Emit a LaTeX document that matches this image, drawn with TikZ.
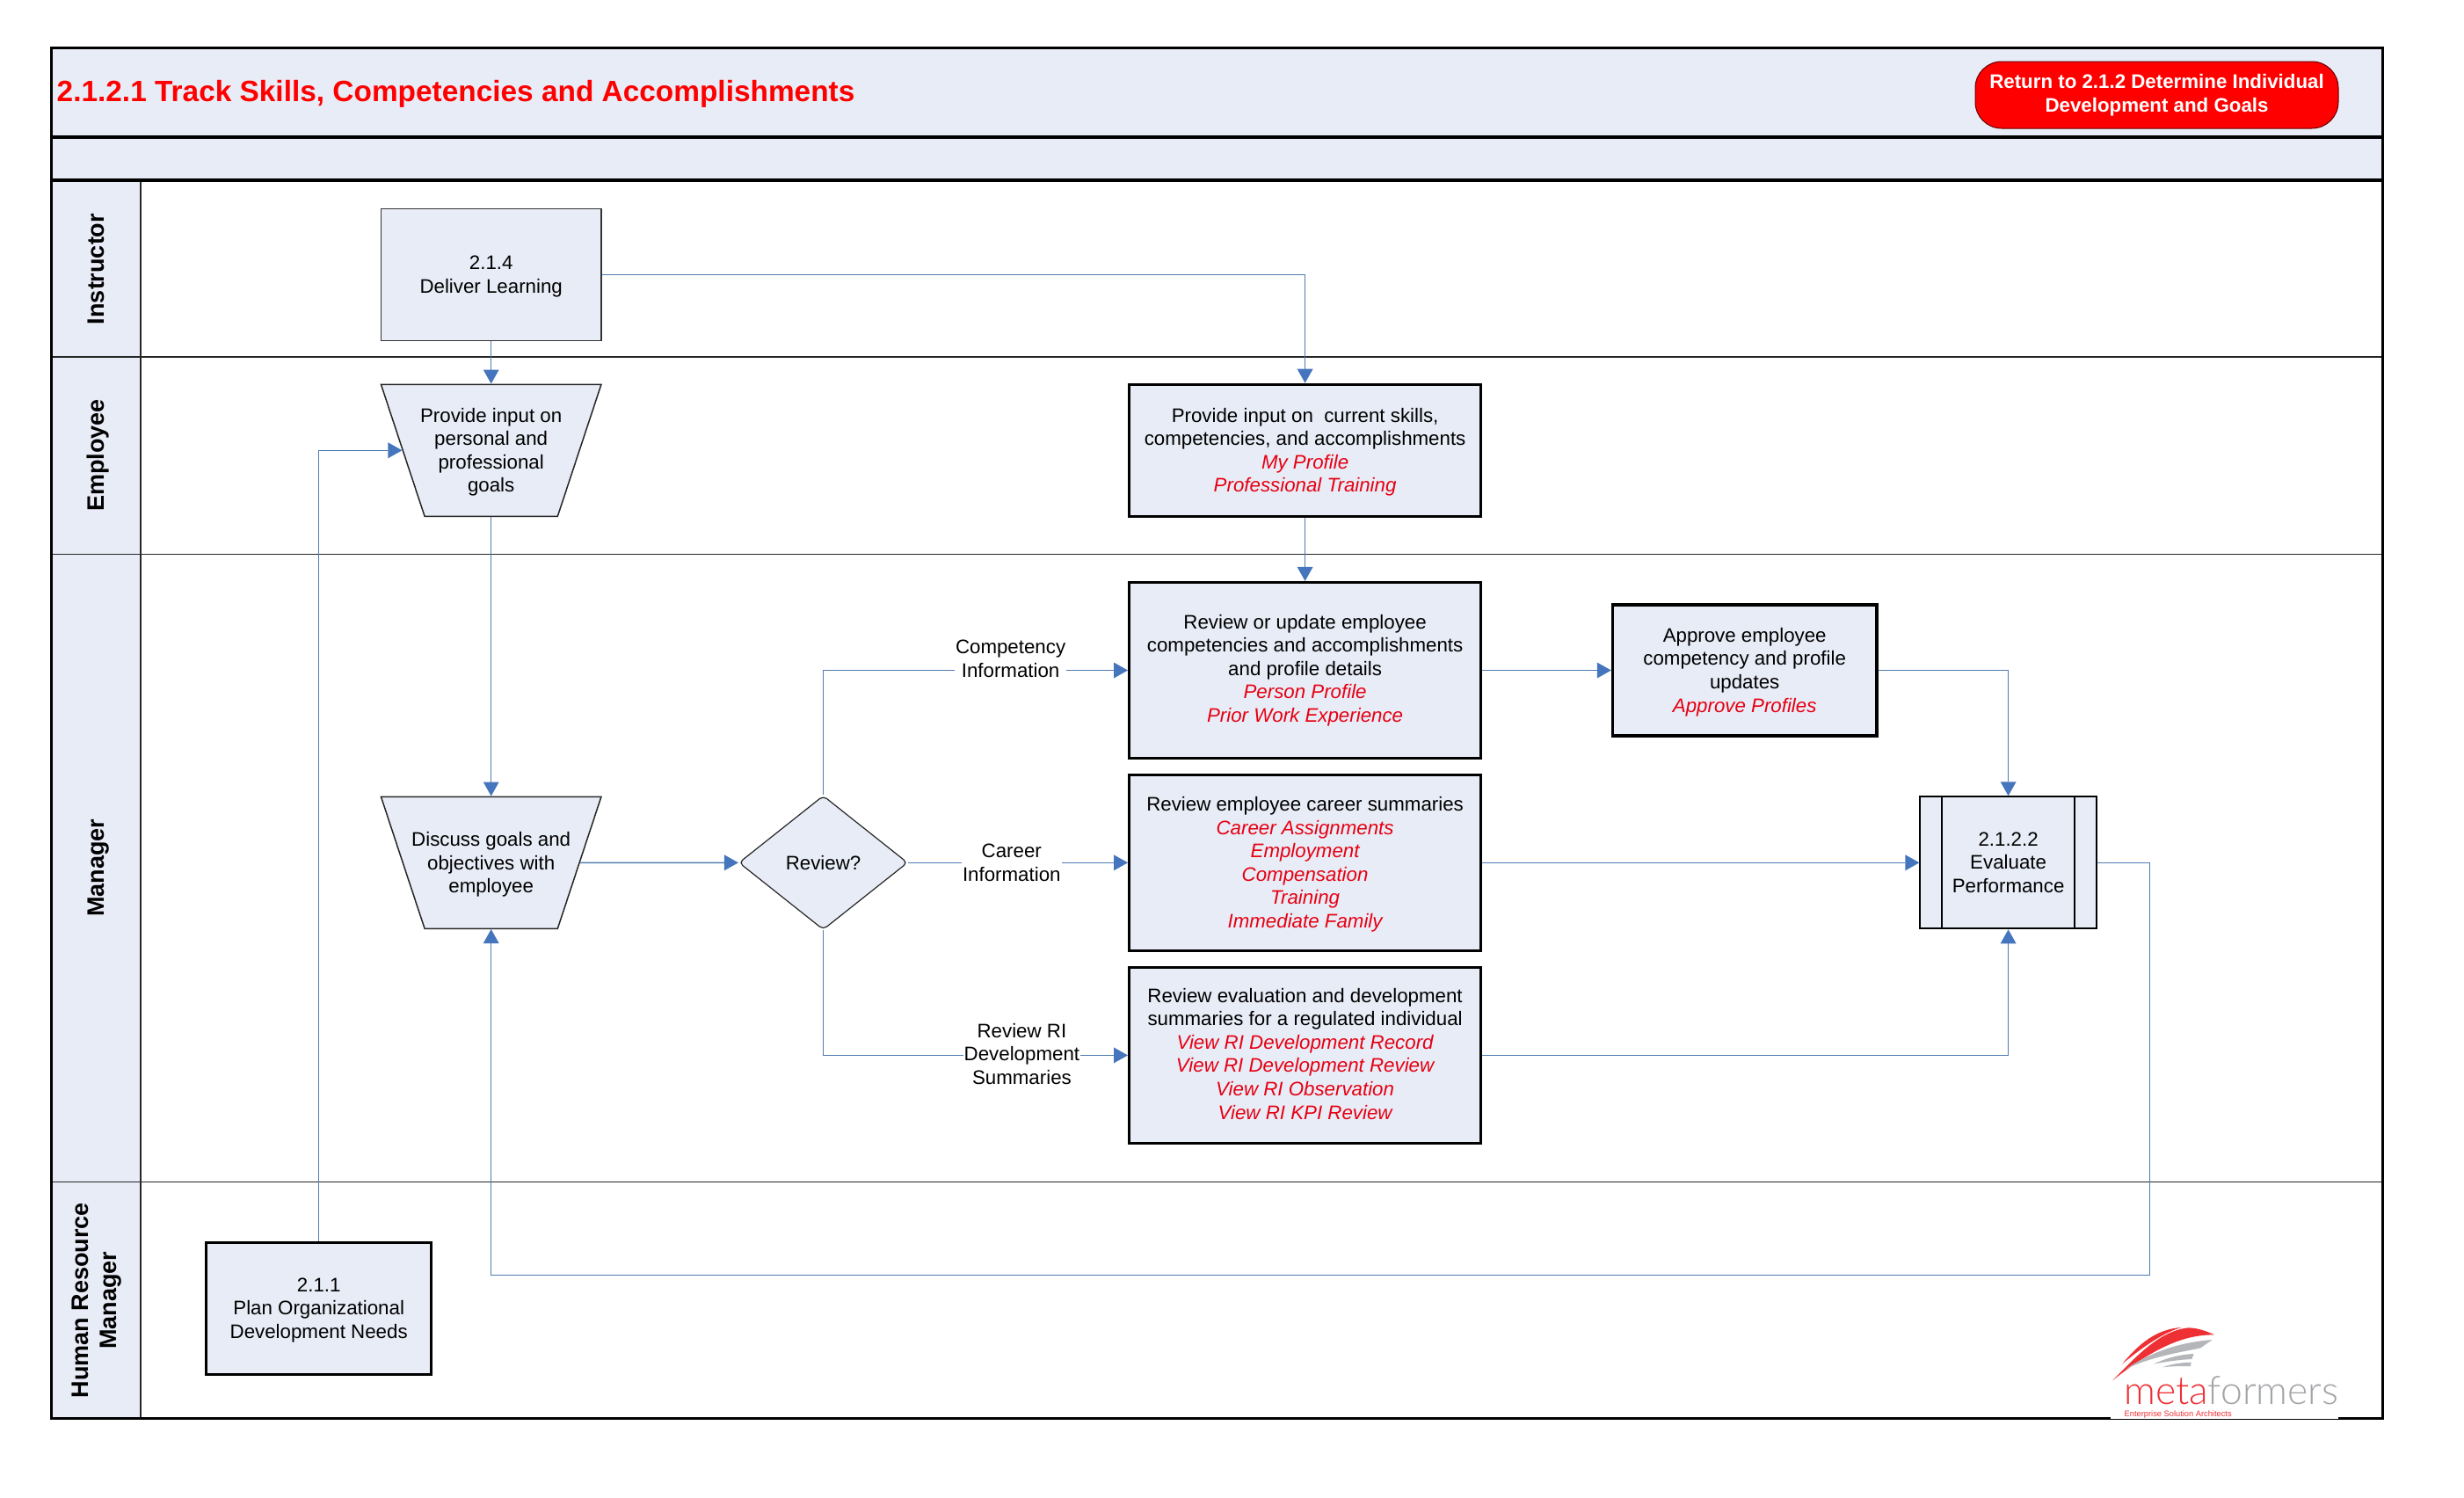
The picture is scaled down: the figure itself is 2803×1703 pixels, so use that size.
\documentclass[tikz,border=0pt]{standalone}
\usepackage{fontspec}
\setmainfont{Liberation Sans}
\newfontfamily\logofont{Lato Light}
\usetikzlibrary{arrows.meta,shapes.geometric,calc}
\definecolor{band}{HTML}{E8ECF6}
\definecolor{linkblue}{HTML}{4F7CB0}
\definecolor{tipblue}{HTML}{4575BC}
\definecolor{textred}{HTML}{E60012}
\definecolor{logored}{HTML}{EE3035}
\definecolor{logogray}{HTML}{B4B6BA}
\newcommand{\rdi}[1]{\textcolor{textred}{\itshape #1}}
\newcommand{\tdn}{\rule{0pt}{20pt}}
\newcommand{\tup}{\rule[-3.6pt]{0pt}{3.6pt}}
\newcommand{\trapfill}{\rule{0pt}{150pt}}
\tikzset{
  txt/.style={font=\fontsize{22.3}{26.6}\selectfont,align=center,text=black,inner sep=0pt},
  thinbox/.style={txt,rectangle,draw=black!80,line width=1.5pt,fill=band},
  thickbox/.style={txt,rectangle,draw=black,line width=3.2pt,fill=band},
  trap/.style={inner sep=0pt,draw=black!85,line width=1.5pt,fill=band,trapezium,trapezium left angle=71.7,trapezium right angle=71.7,shape border rotate=180,trapezium stretches body=true,minimum width=250.5pt,minimum height=150pt},
  traptext/.style={txt,draw=none,fill=none},
  lanelabel/.style={font=\fontsize{27}{32}\selectfont\bfseries,rotate=90,align=center,inner sep=0pt,text=black},
  flowlabel/.style={txt,fill=white,inner xsep=1pt,inner ysep=0pt},
  conn/.style={draw=linkblue,line width=1.4pt},
  arr/.style={conn,-{Triangle[length=16pt,width=18pt,fill=tipblue,line width=0pt]}},
  lanerule/.style={draw=black!85,line width=1.2pt},
  heavy/.style={draw=black,line width=3.4pt}
}
\begin{document}
\begin{tikzpicture}[x=1pt,y=-1pt]
\useasboundingbox (0,0) rectangle (2803,1703);
% frame
\fill[band] (58,54) rectangle (2710.5,205);
\fill[band] (58,205) rectangle (160,1613);
\draw[lanerule] (160,205) -- (160,1613);
\draw[lanerule] (58,406) -- (2710.5,406);
\draw[lanerule] (58,630.6) -- (2710.5,630.6);
\draw[lanerule] (58,1344.6) -- (2710.5,1344.6);
\draw[heavy,line width=4pt] (58,155.5) -- (2710.5,155.5);
\draw[heavy,line width=4pt] (58,205) -- (2710.5,205);
\draw[heavy,line width=3pt] (58,54) rectangle (2710.5,1613);
% header
\node[anchor=west,font=\fontsize{33.4}{36}\selectfont\bfseries,text=red,inner sep=0pt] (title) at (64.5,106.5) {2.1.2.1 Track Skills, Competencies and Accomplishments};
\node[rectangle,rounded corners=30pt,draw=black!60!red,line width=1pt,fill=red,minimum width=413pt,minimum height=76pt,font=\fontsize{22.3}{27}\selectfont\bfseries,text=white,align=center,inner sep=0pt] (ret) at (2453.5,108) {Return to 2.1.2 Determine Individual\\Development and Goals};
% lane labels
\node[lanelabel] (l1) at (109,306) {Instructor};
\node[lanelabel] (l2) at (112,518) {Employee};
\node[lanelabel] (l3) at (112,987) {Manager};
\node[lanelabel] (l4) at (110,1479) {Human Resource\\Manager};
% process nodes
\node[thinbox,minimum width=250.5pt,minimum height=150pt] (deliver) at (558.7,312.5) {\tdn 2.1.4\\Deliver Learning};
\node[trap,label={[traptext,name=goalstext]center:{\tdn Provide input on\\personal and\\professional\\goals}}] (goals) at (558.7,512.3) {\trapfill};
\node[thickbox,minimum width=400pt,minimum height=150pt] (input) at (1484.6,512.3) {\tdn Provide input on\ \ current skills,\\competencies, and accomplishments\\\rdi{My Profile}\\\rdi{Professional Training}};
\node[thickbox,minimum width=400pt,minimum height=200pt] (update) at (1484.6,762.5) {Review or update employee\\competencies and accomplishments\\and profile details\\\rdi{Person Profile}\\\rdi{Prior Work Experience}};
\node[thickbox,minimum width=400pt,minimum height=200pt] (career) at (1484.6,981.3) {\tdn Review employee career summaries\\\rdi{Career Assignments}\\\rdi{Employment}\\\rdi{Compensation}\\\rdi{Training}\\\rdi{Immediate Family}};
\node[thickbox,minimum width=400pt,minimum height=200pt] (ri) at (1484.6,1200.4) {Review evaluation and development\\summaries for a regulated individual\\\rdi{View RI Development Record}\\\rdi{View RI Development Review}\\\rdi{View RI Observation}\\\rdi{View RI KPI Review}\tup};
\node[thickbox,minimum width=300.5pt,minimum height=149pt] (approve) at (1984.7,762.5) {\tdn Approve employee\\competency and profile\\updates\\\rdi{Approve Profiles}};
\node[trap,label={[traptext,name=discusstext]center:{\tdn Discuss goals and\\objectives with\\employee}}] (discuss) at (558.7,981.3) {\trapfill};
\node[txt,diamond,aspect=1.257,draw=black!85,line width=1.2pt,fill=band,rounded corners=5pt,minimum width=192pt,minimum height=152.5pt] (review) at (936.5,981.3) {Review?};
\node[thinbox,draw=black,line width=2pt,minimum width=200.4pt,minimum height=150pt] (eval) at (2284.6,981.3) {2.1.2.2\\Evaluate\\Performance};
\draw[black,line width=2pt] ($(eval.north west)+(25.4,0)$) -- ($(eval.south west)+(25.4,0)$);
\draw[black,line width=2pt] ($(eval.north east)+(-25.4,0)$) -- ($(eval.south east)+(-25.4,0)$);
\node[thickbox,line width=3pt,minimum width=256pt,minimum height=150pt] (plan) at (362.7,1488) {\tdn 2.1.1\\Plan Organizational\\Development Needs};
% connectors
\draw[arr] (deliver.south) -- (goals.north);
\draw[arr] (deliver.east) -| (input.north);
\draw[arr] (goals.south) -- (discuss.north);
\draw[arr] (plan.north) |- (goals.west);
\draw[arr] (input.south) -- (update.north);
\draw[arr] (update.east) -- (approve.west);
\draw[arr] (approve.east) -| (eval.north);
\draw[arr] (discuss.east) -- (review.west);
\draw[arr] (review.north) |- node[flowlabel,pos=.8075,yshift=13pt] (lab1) {Competency\\Information} (update.west);
\draw[arr] (review.east) -- node[flowlabel,pos=.471] (lab2) {Career\\Information} (career.west);
\draw[arr] (review.south) |- node[flowlabel,pos=.826,yshift=1.5pt] (lab3) {Review RI\\Development\\Summaries} (ri.west);
\draw[arr] (career.east) -- (eval.west);
\draw[arr] (ri.east) -| (eval.south);
\coordinate (loopa) at (2445.7,1450.4);
\draw[arr] (eval.east) -| (loopa) -| (discuss.south);
% logo
\fill[white] (2401,1500) rectangle (2660,1614);
\begin{scope}[shift={(2300,1450)},x=.3333pt,y=-.3333pt]
\fill[logored] (342,305) .. controls (400,235) and (460,185) .. (545,180) .. controls (490,195) and (420,240) .. (342,305) -- cycle;
\fill[logored] (308,362) .. controls (390,280) and (470,190) .. (570,181) .. controls (605,182) and (635,195) .. (657,205) .. controls (580,205) and (480,225) .. (308,362) -- cycle;
\fill[logogray] (650,222) .. controls (570,228) and (460,250) .. (355,322) .. controls (440,280) and (540,265) .. (610,250) -- cycle;
\fill[logogray] (587,270) .. controls (540,272) and (490,285) .. (450,305) .. controls (500,295) and (540,290) .. (580,288) -- cycle;
\fill[logogray] (578,299) .. controls (540,300) and (510,305) .. (480,316) .. controls (510,312) and (550,312) .. (576,312) -- cycle;
\end{scope}
\node[anchor=base west,inner sep=0pt,font=\logofont\fontsize{44.5}{48}\selectfont] (logo) at (2416,1597) {\textcolor{logored}{meta}\textcolor{logogray!90!black}{formers}};
\node[anchor=base west,inner sep=0pt,font=\fontsize{5}{6}\selectfont,text=logogray] (logotm) at (2654,1580) {™};
\node[anchor=base west,inner sep=0pt,font=\fontsize{9.3}{10}\selectfont,text=logored] (logotag) at (2416.5,1611) {Enterprise Solution Architects};
\end{tikzpicture}
\end{document}
